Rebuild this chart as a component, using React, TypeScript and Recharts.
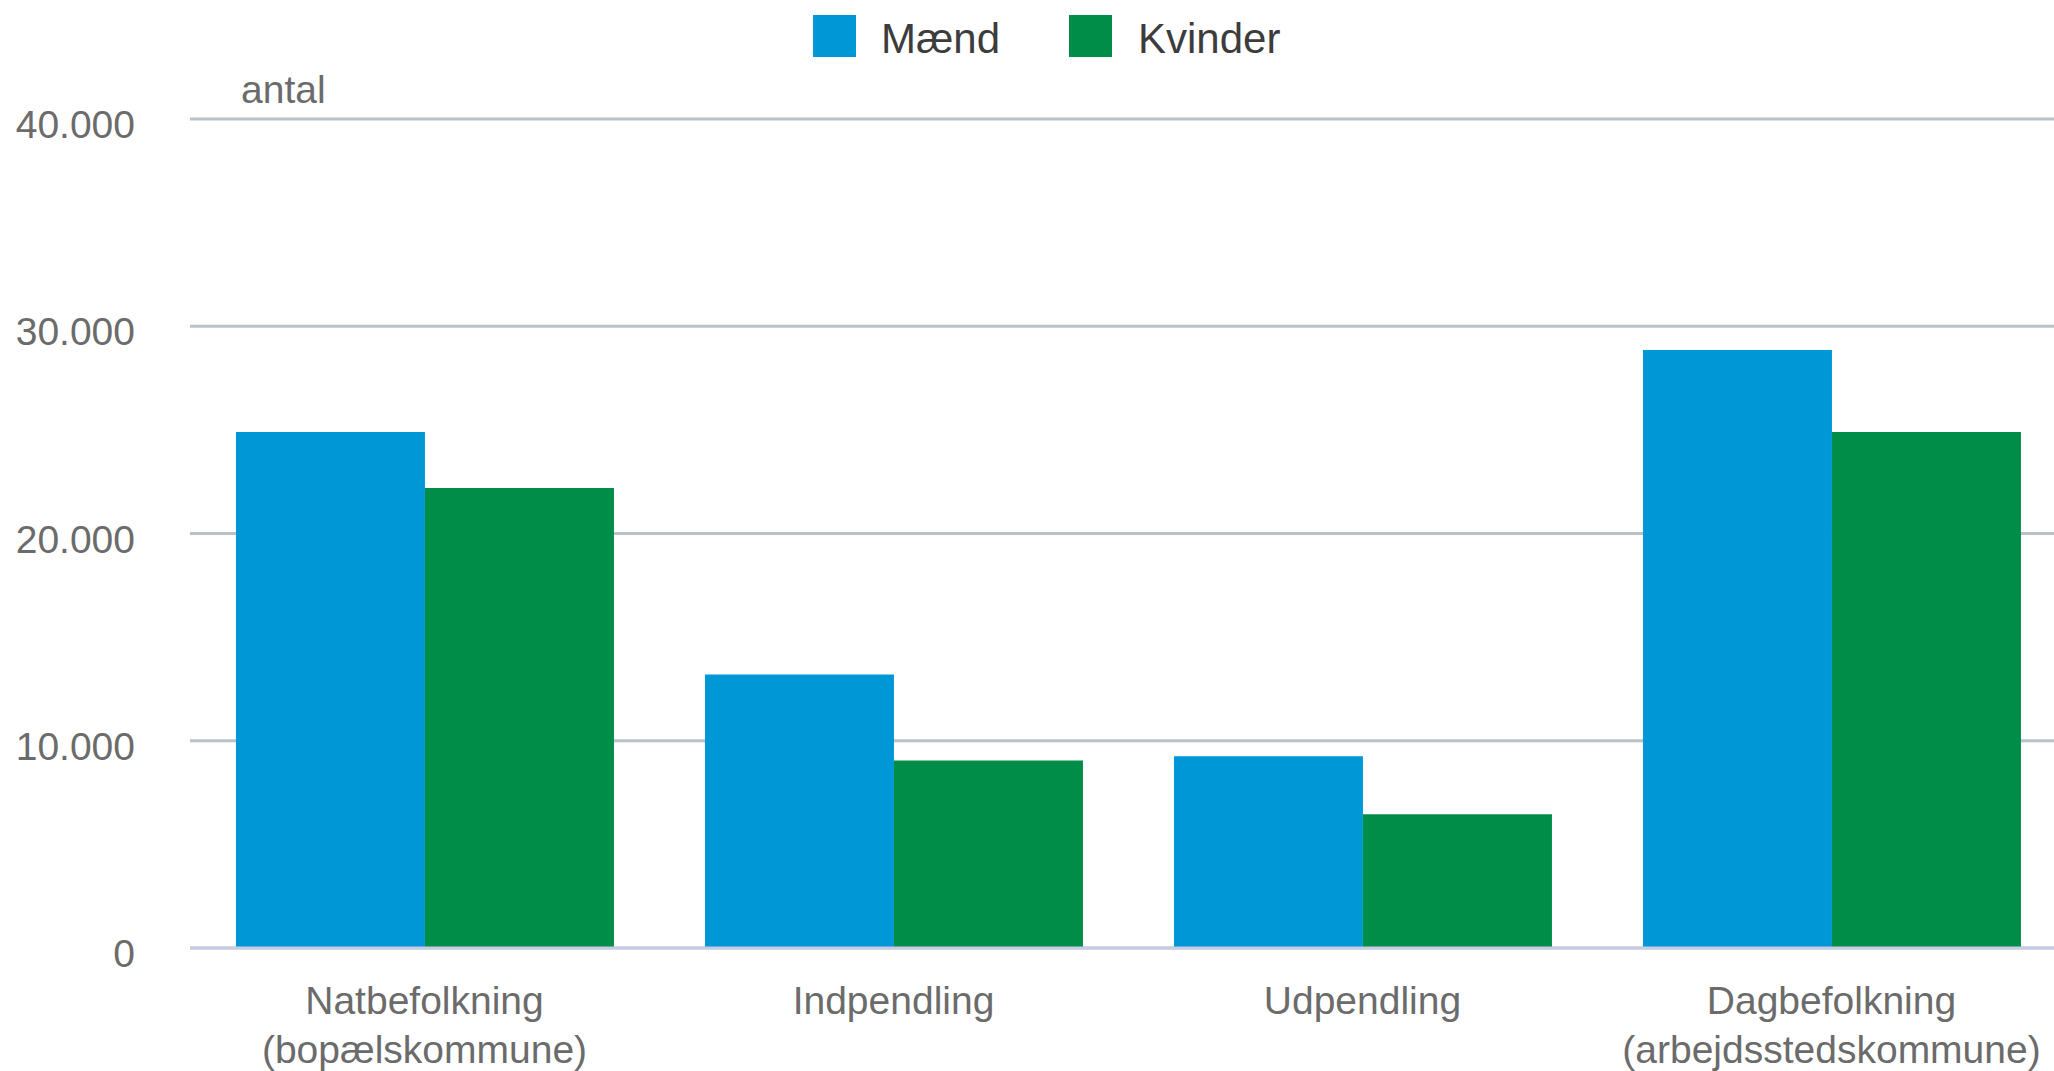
import { Bar, BarChart, CartesianGrid, XAxis, YAxis } from "recharts";

const categories = ["Natbefolkning\n(bopælskommune)", "Indpendling", "Udpendling", "Dagbefolkning\n(arbejdsstedskommune)"];
const maend = [24900, 13200, 9250, 28850];
const kvinder = [22200, 9050, 6450, 24900];
const yTicks = [0, 10000, 20000, 30000, 40000];

const BLUE = "#0097D7";
const GREEN = "#008D47";
const FONT = "'Liberation Sans', Arial, sans-serif";

const chartData = categories.map((name, i) => ({
  name,
  Mænd: maend[i],
  Kvinder: kvinder[i],
}));

const formatThousands = (v: number) => v.toString().replace(/\B(?=(\d{3})+(?!\d))/g, ".");

const XTick = ({ x, y, payload }: any) => {
  const lines = String(payload.value).split("\n");
  return (
    <text x={x} y={y + 58} textAnchor="middle" fill="#6b6b6b" fontSize={39} fontFamily={FONT}>
      {lines.map((line, i) => (
        <tspan key={i} x={x} dy={i === 0 ? 0 : 49}>
          {line}
        </tspan>
      ))}
    </text>
  );
};

const YTick = ({ y, payload }: any) => (
  <text x={135} y={y + 19} textAnchor="end" fill="#6b6b6b" fontSize={39} fontFamily={FONT}>
    {formatThousands(payload.value)}
  </text>
);

const legendItems = [
  { name: "Mænd", color: BLUE, box: 813, text: 881 },
  { name: "Kvinder", color: GREEN, box: 1069, text: 1138 },
];

export default function App() {
  return (
    <div
      style={{
        position: "fixed",
        left: 0,
        top: 0,
        width: 2054,
        height: 1071,
        overflow: "hidden",
        background: "#fff",
        fontFamily: FONT,
      }}
    >
      <BarChart
        width={2066}
        height={1071}
        data={chartData}
        margin={{ top: 119, right: 0, bottom: 0, left: 0 }}
        barCategoryGap="9.8%"
        barGap={0}
      >
        <CartesianGrid vertical={false} stroke="#B7C3C7" strokeWidth={3} />
        <XAxis
          dataKey="name"
          height={123}
          interval={0}
          tickLine={false}
          axisLine={{ stroke: "#C6CCE4", strokeWidth: 3 }}
          tick={<XTick />}
        />
        <YAxis
          width={190}
          domain={[0, 40000]}
          ticks={yTicks}
          axisLine={false}
          tickLine={false}
          tick={<YTick />}
        />
        <Bar dataKey="Mænd" fill={BLUE} isAnimationActive={false} />
        <Bar dataKey="Kvinder" fill={GREEN} isAnimationActive={false} />
      </BarChart>

      {legendItems.map(item => (
        <div key={item.name}>
          <div
            style={{
              position: "absolute",
              left: item.box,
              top: 15,
              width: 43,
              height: 42,
              background: item.color,
            }}
          />
          <div
            style={{
              position: "absolute",
              left: item.text,
              top: 18,
              fontSize: 42,
              lineHeight: "42px",
              color: "#3c3c3c",
              whiteSpace: "nowrap",
            }}
          >
            {item.name}
          </div>
        </div>
      ))}

      <div
        style={{
          position: "absolute",
          left: 241,
          top: 70,
          fontSize: 39,
          lineHeight: "39px",
          color: "#6b6b6b",
        }}
      >
        antal
      </div>
    </div>
  );
}
